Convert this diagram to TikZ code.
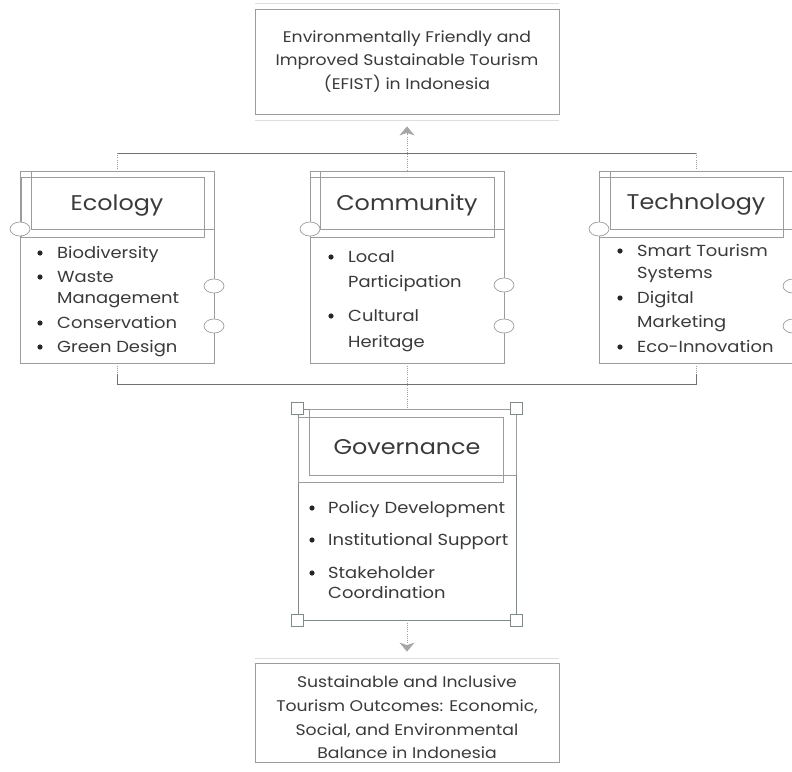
\documentclass[tikz,border=0pt]{standalone}
\usepackage{fontspec}
\setmainfont{Poppins}[FakeStretch=1.12]
\usetikzlibrary{arrows.meta}
\definecolor{boxgray}{HTML}{9C9C9C}
\definecolor{busgray}{HTML}{707070}
\definecolor{txtgray}{HTML}{3A3A3A}
\definecolor{lightline}{HTML}{DEDEDE}
\definecolor{govline}{HTML}{7E8B8B}
\definecolor{arrowgray}{HTML}{A6A6A6}
\newcommand\bulletdot[1]{\fill[black!85] #1 circle (2.6pt);}
\begin{document}
\begin{tikzpicture}[x=1pt,y=-1pt,
  box/.style={draw=boxgray, line width=0.8pt, rectangle, inner sep=0pt, fill=white},
  thinrect/.style={draw=boxgray, line width=0.7pt},
  pillarbox/.style={box, minimum width=194pt, minimum height=192pt},
  titletext/.style={font=\fontsize{21.3}{24}\selectfont, text=txtgray, inner sep=0pt},
  itemtext/.style={anchor=base west, font=\fontsize{16}{18}\selectfont, text=txtgray, inner sep=0pt},
  bodytext/.style={align=center, font=\fontsize{15.4}{23.7}\selectfont, text=txtgray, inner sep=0pt},
  port/.style={draw=boxgray, line width=0.7pt, fill=white},
  handle/.style={draw=govline, line width=0.7pt, fill=white},
  bus/.style={draw=busgray, line width=0.8pt},
  dotline/.style={draw=boxgray, line width=0.8pt, dash pattern=on 1pt off 1.2pt},
  tip/.style={-{Stealth[length=9pt, width=15pt, inset=2.5pt, fill=arrowgray, color=arrowgray]}},
  deco/.style={draw=lightline, line width=1.6pt}]
\useasboundingbox (0,0) rectangle (792,771);

% ---------- goal box ----------
\node[box, minimum width=304pt, minimum height=105pt, bodytext] (goal) at (407,61.5)
  {Environmentally Friendly and\\Improved Sustainable Tourism\\(EFIST) in Indonesia};
\draw[deco] ([yshift=5pt]goal.north west) -- ([yshift=5pt]goal.north east);
\draw[deco] ([yshift=-6pt]goal.south west) -- ([yshift=-6pt]goal.south east);

% ---------- pillar boxes ----------
\node[pillarbox] (eco) at (117,267) {};
\node[pillarbox] (com) at (407,267) {};
\node[pillarbox] (tech) at (696,267) {};

\draw[thinrect] (31,171) rectangle (214,229);
\draw[thinrect] (21,177) rectangle (204,237);
\draw[thinrect] (320,171) rectangle (504,229);
\draw[thinrect] (310,177) rectangle (494,237);
\draw[thinrect] (610,171) rectangle (793,229);
\draw[thinrect] (599,177) rectangle (783,237);

\node[titletext] (ecot) at (117,205) {Ecology};
\node[titletext] (comt) at (407,205) {Community};
\node[titletext] (techt) at (696,204) {Technology};

% ecology items
\bulletdot{(40,253)}\bulletdot{(40,277)}\bulletdot{(40,323)}\bulletdot{(40,347)}
\node[itemtext] (e1) at (57,258) {Biodiversity};
\node[itemtext] (e2) at (57,282) {Waste};
\node[itemtext] (e3) at (57,303) {Management};
\node[itemtext] (e4) at (57,328) {Conservation};
\node[itemtext] (e5) at (57,352) {Green Design};

% community items
\bulletdot{(331,257)}\bulletdot{(331,316)}
\node[itemtext] (c1) at (348,262) {Local};
\node[itemtext] (c2) at (348,287) {Participation};
\node[itemtext] (c3) at (348,321) {Cultural};
\node[itemtext] (c4) at (348,347) {Heritage};

% technology items
\bulletdot{(620,251)}\bulletdot{(620,298)}\bulletdot{(620,347)}
\node[itemtext] (t1) at (637,256) {Smart Tourism};
\node[itemtext] (t2) at (637,278) {Systems};
\node[itemtext] (t3) at (637,303) {Digital};
\node[itemtext] (t4) at (637,327) {Marketing};
\node[itemtext] (t5) at (637,352) {Eco-Innovation};

% ports
\path[port] (20,229) ellipse (10pt and 7pt);
\path[port] (214,286) ellipse (10pt and 7pt);
\path[port] (214,326) ellipse (10pt and 7pt);
\path[port] (310,229) ellipse (10pt and 7pt);
\path[port] (504,285) ellipse (10pt and 7pt);
\path[port] (504,326) ellipse (10pt and 7pt);
\path[port] (599,229) ellipse (10pt and 7pt);
\path[port] (793,286) ellipse (10pt and 7pt);
\path[port] (793,326) ellipse (10pt and 7pt);

% ---------- governance ----------
\node[box, draw=govline, minimum width=218pt, minimum height=211pt] (gov) at (407,514.5) {};
\draw[thinrect] (309,409) rectangle (516,475);
\draw[thinrect] (298,417) rectangle (503,482);
\node[titletext] (govt) at (407,447) {Governance};
\bulletdot{(312,508)}\bulletdot{(312,540)}\bulletdot{(312,573)}
\node[itemtext] (g1) at (328,513) {Policy Development};
\node[itemtext] (g2) at (328,545) {Institutional Support};
\node[itemtext] (g3) at (328,578) {Stakeholder};
\node[itemtext] (g4) at (328,598) {Coordination};
\foreach \c in {north west, north east, south west, south east}
  \path[handle] ([xshift=-6pt,yshift=-6pt]gov.\c) rectangle ([xshift=6pt,yshift=6pt]gov.\c);

% ---------- outcome box ----------
\node[box, minimum width=304pt, minimum height=99pt] (out) at (407,712.5) {};
\node[bodytext] (outt) at (407,717.5)
  {Sustainable and Inclusive\\Tourism Outcomes: Economic,\\Social, and Environmental\\Balance in Indonesia};
\draw[deco] ([yshift=4pt]out.north west) -- ([yshift=4pt]out.north east);

% ---------- connectors ----------
\coordinate (bt1) at (117,153);
\coordinate (bt2) at (696,153);
\coordinate (bb1) at (117,384);
\coordinate (bb2) at (696,384);
\coordinate (bs1) at (117,374);
\coordinate (bs2) at (696,374);

\draw[bus] (bt1) -- (bt2);
\draw[dotline] (bt1) -- (eco.north);
\draw[dotline] (bt2) -- (tech.north);
\draw[bus] (bs1) -- (bb1) -- (bb2) -- (bs2);
\draw[dotline] (eco.south) -- (bs1);
\draw[dotline] (tech.south) -- (bs2);
\draw[dotline] (com.south) -- (gov.north);
\draw[dotline, tip, shorten >=12pt] (com.north) -- (goal.south);
\draw[dotline, tip, shorten >=11pt] (gov.south) -- (out.north);
\end{tikzpicture}
\end{document}
